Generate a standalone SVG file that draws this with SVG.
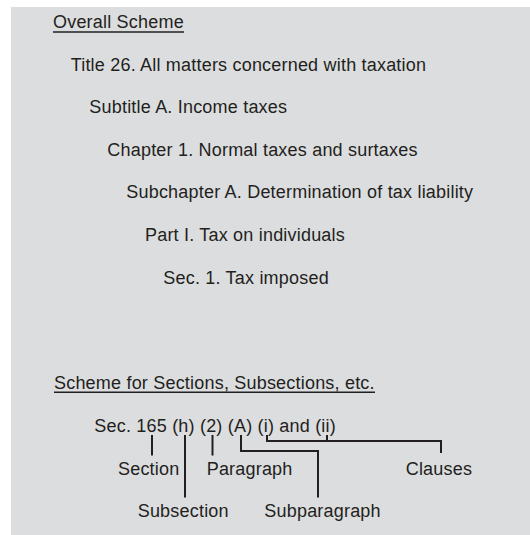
<svg xmlns="http://www.w3.org/2000/svg" width="530" height="535" viewBox="0 0 530 535">
<style>
text { font-family: "Liberation Sans", Arial, Helvetica, sans-serif; font-size: 18px; letter-spacing: 0.2px; fill: #231f20; }
.ul { stroke: #231f20; stroke-width: 1.4; fill: none; }
.conn { stroke: #231f20; stroke-width: 2; fill: none; stroke-linecap: butt; stroke-linejoin: miter; }
</style>
<rect x="11" y="7" width="519" height="528" fill="#dcdddf"/>
<g id="overall-heading">
<text x="53" y="28.3">Overall Scheme</text>
<line class="ul" x1="53" y1="32" x2="184" y2="32"/>
</g>
<g id="title"><text x="70.7" y="70.5">Title 26. All matters concerned with taxation</text></g>
<g id="subtitle"><text x="89.3" y="113">Subtitle A. Income taxes</text></g>
<g id="chapter"><text x="107.3" y="155.7">Chapter 1. Normal taxes and surtaxes</text></g>
<g id="subchapter"><text x="126.3" y="198">Subchapter A. Determination of tax liability</text></g>
<g id="part"><text x="145" y="240.7">Part I. Tax on individuals</text></g>
<g id="sec1"><text x="163.3" y="283.5">Sec. 1. Tax imposed</text></g>
<g id="sections-heading">
<text x="54" y="388.5">Scheme for Sections, Subsections, etc.</text>
<line class="ul" x1="54" y1="392.3" x2="375" y2="392.3"/>
</g>
<g id="citation"><text x="94.3" y="432">Sec. 165 (h) (2) (A) (i) and (ii)</text></g>
<g id="section"><text x="118" y="475">Section</text></g>
<g id="paragraph"><text x="206.7" y="475">Paragraph</text></g>
<g id="clauses"><text x="405.7" y="475">Clauses</text></g>
<g id="subsection"><text x="137.7" y="516.7">Subsection</text></g>
<g id="subparagraph"><text x="264.3" y="516.7">Subparagraph</text></g>
<g id="connectors">
<line class="conn" x1="152" y1="435" x2="152" y2="455.5"/>
<line class="conn" x1="185" y1="435" x2="185" y2="497.5"/>
<line class="conn" x1="212.5" y1="435" x2="212.5" y2="455.5"/>
<polyline class="conn" points="241,435 241,451 318,451 318,497.5"/>
<polyline class="conn" points="267,435 267,441 441,441 441,453"/>
<line class="conn" x1="327" y1="435" x2="327" y2="441"/>
</g>
</svg>
